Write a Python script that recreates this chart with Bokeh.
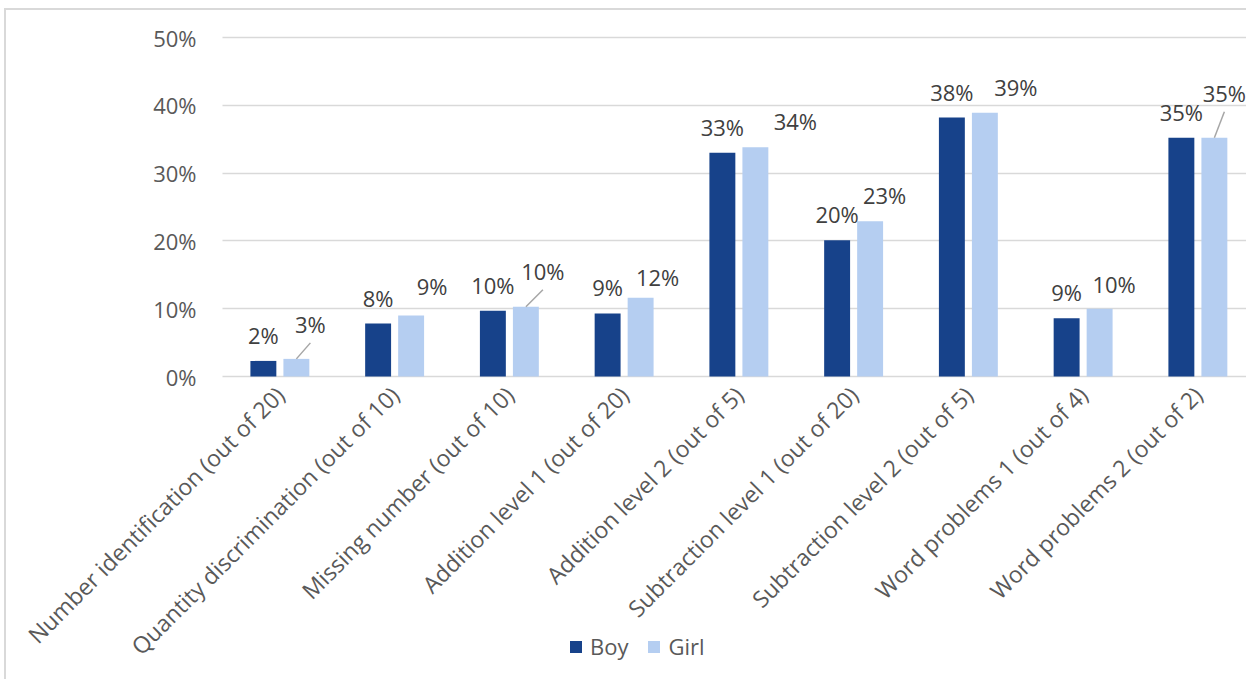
import math
from bokeh.plotting import figure
from bokeh.models import ColumnDataSource, FixedTicker, PrintfTickFormatter, Legend, LegendItem, Range1d
from bokeh.core.properties import value
from bokeh.embed import file_html
from bokeh.resources import INLINE

# ---- data ----
categories = [
    "Number identification (out of 20)",
    "Quantity discrimination (out of 10)",
    "Missing number (out of 10)",
    "Addition level 1 (out of 20)",
    "Addition level 2 (out of 5)",
    "Subtraction level 1 (out of 20)",
    "Subtraction level 2 (out of 5)",
    "Word problems 1 (out of 4)",
    "Word problems 2 (out of 2)",
]
boy = [2.3, 7.8, 9.7, 9.3, 33.0, 20.1, 38.2, 8.6, 35.2]
girl = [2.6, 9.0, 10.3, 11.6, 33.8, 22.9, 38.9, 10.0, 35.2]
y_ticks = [0, 10, 20, 30, 40, 50]

# label nudges for the Girl labels (pixels right / pixels above bar top)
girl_label_dx = [14, 21, 17, 17, 40, 14.5, 31, 14.5, 10]
girl_label_dy = [35, 29, 36, 21, 26, 26.5, 26, 24.5, 45]
girl_leader = [True, False, True, False, False, False, False, False, True]

# ---- style / geometry ----
BOY_COLOR = "#17428a"
GIRL_COLOR = "#b5cef1"
FONT = "Open Sans"
FS = "22px"
FS_CAT = "23px"
W, H = 1242, 671
ML, MT = 4, 8
plot_left = 216         # px from canvas left to the 0..50 plot area
plot_top = 27           # px from canvas top to the 50% line
plot_h = 339            # pixel height from 0% to 50%
cat_px = 114.75         # pixel width of one category
bar_off = 0.1438
bar_w = 0.226

px_x = cat_px
px_y = plot_h / (y_ticks[-1] - y_ticks[0])
x_start = -0.5 - plot_left / px_x
x_end = -0.5 + (W - plot_left) / px_x
y_end = y_ticks[-1] + plot_top / px_y
y_start = y_ticks[-1] - (H - plot_top) / px_y

idx = list(range(len(categories)))
xb = [i - bar_off for i in idx]
xg = [i + bar_off for i in idx]
src = ColumnDataSource(dict(
    xb=xb, xg=xg, boy=boy, girl=girl,
    boy_lbl=[f"{round(v)}%" for v in boy],
    girl_lbl=[f"{round(v)}%" for v in girl],
    gdx=girl_label_dx,
    gdy=[-d for d in girl_label_dy],
))

p = figure(width=W, height=H, x_range=Range1d(x_start, x_end), y_range=Range1d(y_start, y_end),
           output_backend="svg", toolbar_location=None,
           min_border_left=0, min_border_right=0, min_border_top=0, min_border_bottom=0)
p.margin = (MT, 0, 0, ML)
p.styles = {"border-top": "2px solid #d9d9d9", "border-left": "2px solid #d9d9d9"}
p.outline_line_color = None
p.background_fill_color = "white"
p.border_fill_color = "white"

p.xgrid.grid_line_color = None
p.ygrid.ticker = FixedTicker(ticks=y_ticks)
p.ygrid.grid_line_color = "#d9d9d9"
p.ygrid.grid_line_width = 1.5
p.ygrid.cross_bounds = (-0.5, x_end)

p.yaxis.fixed_location = -0.5
p.yaxis.ticker = FixedTicker(ticks=y_ticks)
p.yaxis.formatter = PrintfTickFormatter(format="%d%%")
p.yaxis.axis_line_color = None
p.yaxis.major_tick_line_color = None
p.yaxis.minor_tick_line_color = None
p.yaxis.major_tick_out = 0
p.yaxis.major_label_standoff = 26
p.yaxis.major_label_text_font = FONT
p.yaxis.major_label_text_font_size = FS
p.yaxis.major_label_text_color = "#595959"

p.xaxis.fixed_location = 0
p.xaxis.ticker = FixedTicker(ticks=idx)
p.xaxis.major_label_overrides = {i: c for i, c in zip(idx, categories)}
p.xaxis.major_label_orientation = math.pi / 4
p.xaxis.axis_line_color = None
p.xaxis.major_tick_line_color = None
p.xaxis.minor_tick_line_color = None
p.xaxis.major_tick_out = 0
p.xaxis.major_label_standoff = 14
p.xaxis.major_label_text_font = FONT
p.xaxis.major_label_text_font_size = FS_CAT
p.xaxis.major_label_text_color = "#595959"

rb = p.vbar(x="xb", top="boy", width=bar_w, source=src, fill_color=BOY_COLOR, line_color=None)
rg = p.vbar(x="xg", top="girl", width=bar_w, source=src, fill_color=GIRL_COLOR, line_color=None)

p.text(x="xb", y="boy", text="boy_lbl", source=src, y_offset=-26,
       text_align="center", text_baseline="middle", text_font=value(FONT),
       text_font_size=FS, text_color="#404040")
p.text(x="xg", y="girl", text="girl_lbl", source=src, x_offset="gdx", y_offset="gdy",
       text_align="center", text_baseline="middle", text_font=value(FONT),
       text_font_size=FS, text_color="#404040")

# leader lines from bar top to the nudged label
lx0, ly0, lx1, ly1 = [], [], [], []
for i in idx:
    if girl_leader[i]:
        lx0.append(xg[i]); ly0.append(girl[i])
        lx1.append(xg[i] + girl_label_dx[i] / px_x)
        ly1.append(girl[i] + (girl_label_dy[i] - 19) / px_y)
p.segment(x0=lx0, y0=ly0, x1=lx1, y1=ly1, line_color="#a6a6a6", line_width=1.5)

legend = Legend(items=[LegendItem(label="Boy", renderers=[rb]),
                       LegendItem(label="Girl", renderers=[rg])],
                location=(562, 20), orientation="horizontal",
                glyph_width=15, glyph_height=15, label_standoff=7, spacing=18,
                padding=0, margin=0, border_line_color=None, background_fill_alpha=0,
                label_text_font=FONT, label_text_font_size=FS, label_text_color="#595959")
p.add_layout(legend)

open("out.html", "w").write(file_html(p, INLINE))
